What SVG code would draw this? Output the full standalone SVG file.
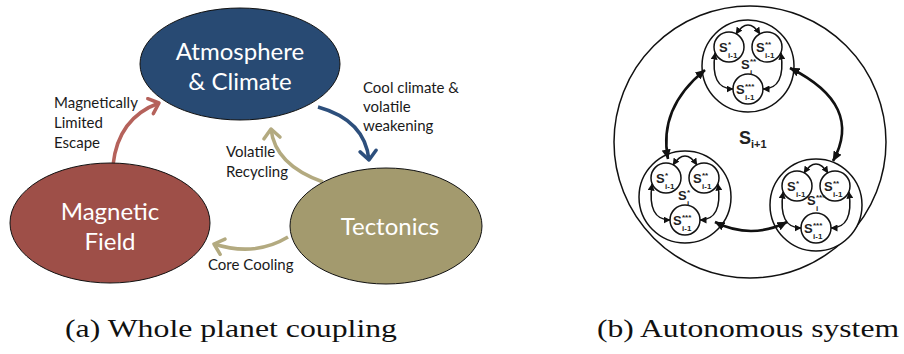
<svg xmlns="http://www.w3.org/2000/svg" width="904" height="354" viewBox="0 0 904 354">
<defs>
<style>
.node{stroke:#111;stroke-width:1}
.nt{font-family:Lato,"Open Sans",sans-serif;font-size:24px;fill:#fff;text-anchor:middle}
.lb{font-family:Lato,"Open Sans",sans-serif;font-size:15px;fill:#1a1a1a}
.cap{font-family:"Liberation Serif",serif;font-size:26px;fill:#111}
.arr{fill:none;stroke-width:3.5}
.ring{fill:#fff;stroke:#111;stroke-width:1.5}
.loop{fill:none;stroke:#111;stroke-width:1.5}
.big{fill:none;stroke:#111;stroke-width:2.6}
.s{font-family:"Liberation Sans",Arial,sans-serif;font-weight:bold;fill:#222}
.s12{font-size:13px}
.s7{font-size:8px}
</style>
<marker id="mr" viewBox="-12 -10 14 20" refX="0" refY="0" markerWidth="14" markerHeight="20" markerUnits="userSpaceOnUse" orient="auto"><path d="M-9,-8 L0,0 L-9,8" fill="none" stroke="#b5625b" stroke-width="3.5" stroke-linecap="round" stroke-linejoin="round"/></marker>
<marker id="mb" viewBox="-12 -10 14 20" refX="0" refY="0" markerWidth="14" markerHeight="20" markerUnits="userSpaceOnUse" orient="auto"><path d="M-9,-8 L0,0 L-9,8" fill="none" stroke="#2d4f7c" stroke-width="3.5" stroke-linecap="round" stroke-linejoin="round"/></marker>
<marker id="mt" viewBox="-12 -10 14 20" refX="0" refY="0" markerWidth="14" markerHeight="20" markerUnits="userSpaceOnUse" orient="auto"><path d="M-9,-8 L0,0 L-9,8" fill="none" stroke="#b3aa80" stroke-width="3.5" stroke-linecap="round" stroke-linejoin="round"/></marker>
<marker id="sm" viewBox="0 -3.5 7 7" refX="6.5" refY="0" markerWidth="7" markerHeight="7" markerUnits="userSpaceOnUse" orient="auto-start-reverse"><path d="M0,-3.5 L7,0 L0,3.5z" fill="#111"/></marker>
<marker id="bg" viewBox="0 -4.5 10 9" refX="9.5" refY="0" markerWidth="10" markerHeight="9" markerUnits="userSpaceOnUse" orient="auto-start-reverse"><path d="M0,-4.5 L10,0 L0,4.5z" fill="#111"/></marker>
<g id="cl">
<circle r="46" class="ring"/>
<circle cx="-19" cy="-19" r="15" class="ring"/>
<circle cx="19" cy="-19" r="15" class="ring"/>
<circle cx="0" cy="23" r="15" class="ring"/>
<path class="loop" d="M-12,-32 Q0,-50 12,-32" marker-start="url(#sm)" marker-end="url(#sm)"/>
<path class="loop" d="M-33,-13 Q-38,23 -15,23" marker-start="url(#sm)" marker-end="url(#sm)"/>
<path class="loop" d="M33,-13 Q38,23 15,23" marker-start="url(#sm)" marker-end="url(#sm)"/>
<text class="s s12" x="-29" y="-14">S</text><text class="s s7" x="-20" y="-19">*</text><text class="s s7" x="-20" y="-8">i-1</text>
<text class="s s12" x="8" y="-14">S</text><text class="s s7" x="17" y="-19">**</text><text class="s s7" x="17" y="-8">i-1</text>
<text class="s s12" x="-12" y="28">S</text><text class="s s7" x="-3" y="23">***</text><text class="s s7" x="-3" y="34">i-1</text>
</g>
</defs>
<rect width="904" height="354" fill="#fff"/>

<g id="connectors">
<path class="arr" stroke="#b5625b" d="M113,165 Q118,118 159,103" marker-end="url(#mr)"/>
<path class="arr" stroke="#2d4f7c" d="M318,107 Q365,120 369,160" marker-end="url(#mb)"/>
<path class="arr" stroke="#b3aa80" d="M323,182 Q275,165 271,129" marker-end="url(#mt)"/>
<path class="arr" stroke="#b3aa80" d="M288,237 Q255,257 214,244" marker-end="url(#mt)"/>
</g>

<g id="atmosphere">
<ellipse class="node" cx="240" cy="64" rx="100" ry="56" fill="#284a73"/>
<text class="nt" x="240" y="60">Atmosphere</text>
<text class="nt" x="240" y="90">&amp; Climate</text>
</g>
<g id="magnetic">
<ellipse class="node" cx="110" cy="223" rx="100" ry="60" fill="#9e4f48"/>
<text class="nt" x="110" y="220">Magnetic</text>
<text class="nt" x="110" y="250">Field</text>
</g>
<g id="tectonics">
<ellipse class="node" cx="386" cy="226" rx="96" ry="58" fill="#a39a6e"/>
<text class="nt" x="390" y="235">Tectonics</text>
</g>

<g id="labels">
<text class="lb" x="54" y="108">Magnetically</text>
<text class="lb" x="54" y="128">Limited</text>
<text class="lb" x="54" y="148">Escape</text>
<text class="lb" x="363" y="93">Cool climate &amp;</text>
<text class="lb" x="363" y="112">volatile</text>
<text class="lb" x="363" y="131">weakening</text>
<text class="lb" x="226" y="157">Volatile</text>
<text class="lb" x="226" y="177">Recycling</text>
<text class="lb" x="208" y="270">Core Cooling</text>
</g>

<g id="autonomous">
<circle cx="750" cy="142" r="136" fill="none" stroke="#111" stroke-width="1.5"/>
<g id="cluster-top" transform="translate(748,66)">
<use href="#cl"/>
<text class="s s12" x="-7" y="3">S</text><text class="s s7" x="2" y="-2">**</text><text class="s s7" x="2" y="9">i</text>
</g>
<g id="cluster-left" transform="translate(685,197)">
<use href="#cl"/>
<text class="s s12" x="-7" y="3">S</text><text class="s s7" x="2" y="-2">*</text><text class="s s7" x="2" y="9">i</text>
</g>
<g id="cluster-right" transform="translate(816,205)">
<use href="#cl"/>
<text class="s s12" x="-9" y="0">S</text><text class="s s7" x="0" y="-5">***</text><text class="s s7" x="0" y="6">i</text>
</g>
<g id="links">
<path class="big" d="M668,159 Q658,108 705,70" marker-start="url(#bg)" marker-end="url(#bg)"/>
<path class="big" d="M790,68 Q864,105 833,161" marker-start="url(#bg)" marker-end="url(#bg)"/>
<path class="big" d="M715,222 Q751,240 787,222" marker-start="url(#bg)" marker-end="url(#bg)"/>
</g>
<text class="s" font-size="18" x="739" y="144">S</text>
<text class="s" font-size="11" x="751" y="148">i+1</text>
</g>

<text class="cap" x="65" y="337" textLength="332" lengthAdjust="spacingAndGlyphs">(a) Whole planet coupling</text>
<text class="cap" x="597" y="337" textLength="302" lengthAdjust="spacingAndGlyphs">(b) Autonomous system</text>
</svg>
